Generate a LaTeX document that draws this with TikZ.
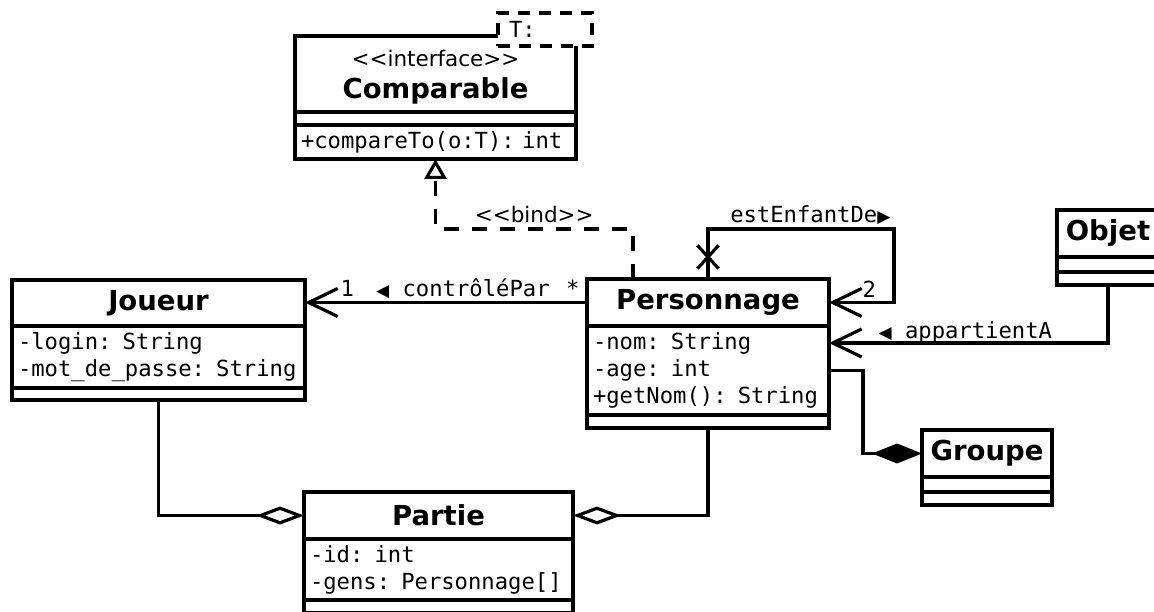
\documentclass[tikz,border=0pt]{standalone}
\usepackage{fontspec}
\setmainfont{DejaVu Sans}
\setmonofont{DejaVu Sans Mono}
\newfontfamily\trifont{DejaVu Sans}
\usetikzlibrary{positioning,calc,arrows.meta,shapes.misc}
\begin{document}
\begin{tikzpicture}[x=1pt, y=-1pt, line width=3.2pt,
	box/.style={draw, outer sep=0pt, inner xsep=6pt, inner ysep=0pt},
	cname/.style={box, anchor=north west, minimum height=47pt, font=\bfseries\fontsize{27.5}{31}\selectfont},
	cattr/.style={box, align=left, font=\ttfamily\fontsize{22.2}{27}\selectfont},
	cempty/.style={box, inner xsep=0pt, minimum height=13pt},
	lbl/.style={font=\ttfamily\fontsize{22.2}{27}\selectfont, inner sep=0pt, anchor=base},
	assoc/.style={-{Straight Barb[length=29pt,width=28pt]}},
	aggr/.style={-{Diamond[open,length=48pt,width=18pt]}},
	compo/.style={-{Diamond[length=50pt,width=20pt]}},
	bind/.style={dash pattern=on 15pt off 13pt, -{Triangle[open,length=20pt,width=22pt]}}]
	\useasboundingbox (0,0) rectangle (1154,612);
	\clip (0,0) rectangle (1154,612);
	% classes
	\node[cname, minimum width=281pt, minimum height=76pt, align=center] (cmp-n) at (295,36) {{\mdseries\fontsize{21.5}{31}\selectfont\rule{0pt}{22pt}<{}<interface>{}>}\\[1pt]Comparable};
	\node[cempty, minimum width=281pt, below=0pt of cmp-n] (cmp-a) {};
	\node[cattr, text width=269pt, minimum height=34pt, below=0pt of cmp-a] (cmp-m) {+compareTo(o:T): int};
	\node[box, dash pattern=on 12pt off 9pt, fill=white, anchor=north west, inner xsep=11pt, minimum width=94pt, minimum height=33pt, text width=72pt, align=left, font=\ttfamily\fontsize{22.2}{27}\selectfont] (cmp-t) at (498,13) {T:};
	\node[cname, minimum width=293pt, minimum height=46pt] (jou-n) at (12,280) {Joueur};
	\node[cattr, text width=281pt, minimum height=62pt, below=0pt of jou-n] (jou-a) {-login: String\\-mot\_de\_passe: String};
	\node[cempty, minimum width=293pt, minimum height=12pt, below=0pt of jou-a] (jou-e) {};
	\node[cname, minimum width=242pt] (per-n) at (587,279) {Personnage};
	\node[cattr, text width=230pt, minimum height=89pt, below=0pt of per-n] (per-a) {-nom: String\\-age: int\\+getNom(): String};
	\node[cempty, minimum width=242pt, below=0pt of per-a] (per-e) {};
	\node[cname, minimum width=102pt] (obj-n) at (1057,210) {Objet};
	\node[cempty, minimum width=102pt, minimum height=15pt, below=0pt of obj-n] (obj-a) {};
	\node[cempty, minimum width=102pt, below=0pt of obj-a] (obj-e) {};
	\node[cname, minimum width=130pt] (grp-n) at (922,430) {Groupe};
	\node[cempty, minimum width=130pt, minimum height=15pt, below=0pt of grp-n] (grp-a) {};
	\node[cempty, minimum width=130pt, below=0pt of grp-a] (grp-e) {};
	\node[cname, minimum width=269pt] (par-n) at (304,492) {Partie};
	\node[cattr, text width=257pt, minimum height=61pt, below=0pt of par-n] (par-a) {-id: int\\-gens: Personnage[]};
	\node[cempty, minimum width=269pt, below=0pt of par-a] (par-e) {};
	% relations
	\draw[assoc] (per-n.west) --
		node[lbl, pos=0.05, yshift=6pt] {*}
		node[lbl, pos=0.44, yshift=6pt] {{\trifont\fontsize{17}{17}\selectfont ◀} contrôléPar}
		node[lbl, pos=0.85, yshift=6pt] {1} (per-n.west -| jou-n.east);
	\draw[bind] ($(per-n.north west)+(46,0)$) -- ++(0,-50) -| node[lbl, pos=0.25, yshift=6pt, font=\fontsize{21.5}{27}\selectfont] {<{}<bind>{}>} (cmp-m.south);
	\draw[assoc] (per-n.north) -- ++(0,-50) -| node[lbl, pos=0.275, yshift=6pt] {estEnfantDe{\trifont\fontsize{17}{17}\selectfont ▶}} ($(per-n.east)+(65,0)$) -- node[lbl, pos=0.38, yshift=5pt] {2} (per-n.east);
	\node[draw, cross out, minimum width=18pt, minimum height=20pt, inner sep=0pt] (nav) at ($(per-n.north)+(0,-22)$) {};
	\draw[assoc] (obj-e.south) |- node[lbl, pos=0.914, anchor=base west, yshift=5pt] {{\trifont\fontsize{17}{17}\selectfont ◀} appartientA} ($(per-a.north east)+(0,17)$);
	\draw[compo] (per-a.east) -- ++(34,0) |- (grp-n.west);
	\draw[aggr] (jou-e.south) |- (par-n.west);
	\draw[aggr] (per-e.south) |- (par-n.east);
\end{tikzpicture}
\end{document}
